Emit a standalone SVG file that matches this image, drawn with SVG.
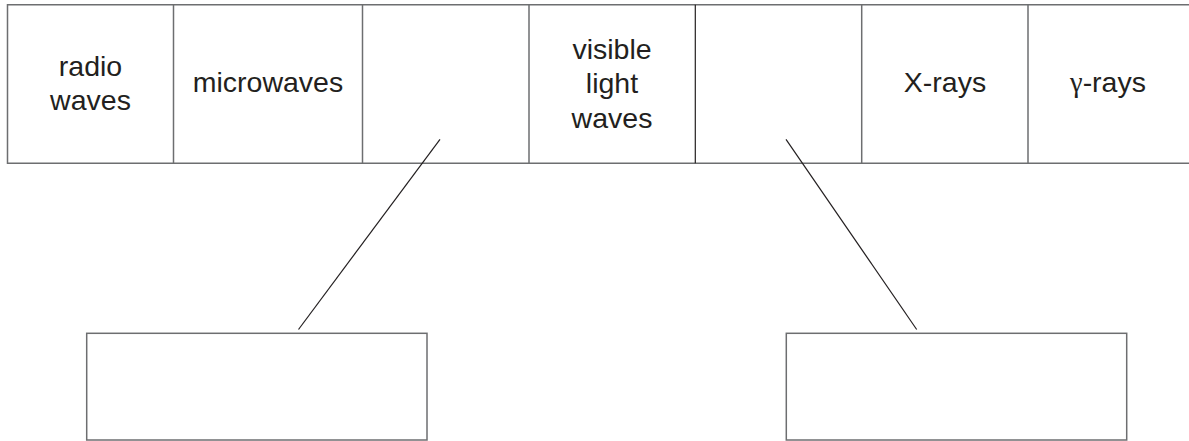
<svg xmlns="http://www.w3.org/2000/svg" width="1189" height="441" viewBox="0 0 1189 441">
<style>
.b{fill:none;stroke:#6d6e70;stroke-width:1.5}
.l{fill:none;stroke:#231f20;stroke-width:1.2}
text{font-family:"Liberation Sans",Arial,sans-serif;font-size:28.5px;fill:#231f20;text-anchor:middle}
</style>
<rect width="1189" height="441" fill="#fff"/>
<g id="band">
<path class="b" d="M1189,4.7 H7.5 V163.3 H1189"/>
</g>
<g id="radio"><line class="b" x1="173.5" y1="4.7" x2="173.5" y2="163.3"/><text x="90.5"><tspan x="90.5" y="76">radio</tspan><tspan x="90.5" y="110">waves</tspan></text></g>
<g id="microwaves"><line class="b" x1="362.5" y1="4.7" x2="362.5" y2="163.3"/><text x="268" y="92">microwaves</text></g>
<g id="blank1"><line class="b" x1="529" y1="4.7" x2="529" y2="163.3"/></g>
<g id="visible"><line class="l" x1="695.3" y1="4.7" x2="695.3" y2="163.3"/><text><tspan x="612" y="58.5">visible</tspan><tspan x="612" y="92.7">light</tspan><tspan x="612" y="127.5">waves</tspan></text></g>
<g id="blank2"><line class="b" x1="861.7" y1="4.7" x2="861.7" y2="163.3"/></g>
<g id="xrays"><line class="b" x1="1028" y1="4.7" x2="1028" y2="163.3"/><text x="945" y="92">X-rays</text></g>
<g id="gamma"><text x="1108" y="92"><tspan font-family="'Liberation Serif','Times New Roman',serif">γ</tspan>-rays</text></g>
<g id="box1"><rect class="b" x="86.7" y="333.3" width="340.3" height="106.7"/></g>
<g id="box2"><rect class="b" x="786.3" y="333.3" width="340.4" height="106.7"/></g>
<g id="connectors">
<line class="l" x1="440" y1="139.3" x2="298.5" y2="329.5"/>
<line class="l" x1="786" y1="139.3" x2="916.7" y2="329.5"/>
</g>
</svg>
